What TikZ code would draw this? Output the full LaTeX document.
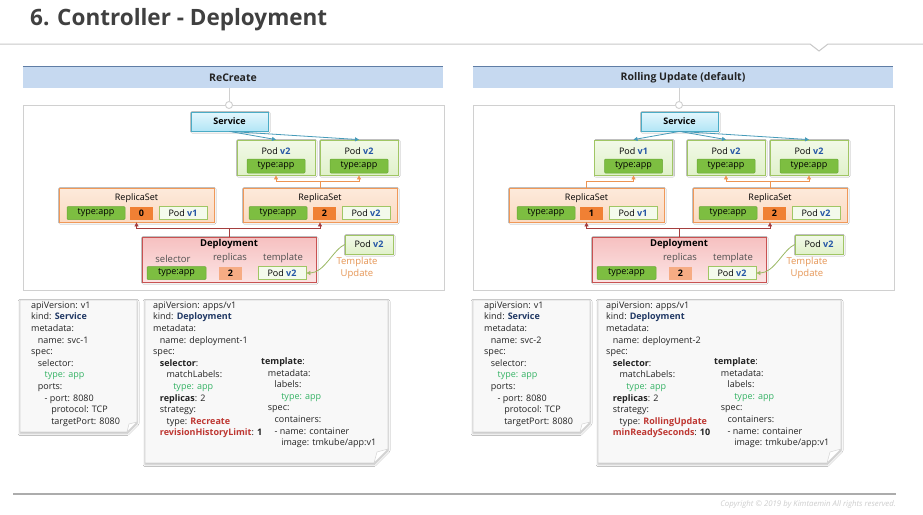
\documentclass[tikz,border=0pt]{standalone}
\usepackage{fontspec}
\setmainfont{Open Sans}
\usepackage{tikz}
\usetikzlibrary{
    positioning,
    arrows.meta,
    calc,
    shadows,
    shadows.blur
}
\definecolor{titleGray}{RGB}{64, 64, 64}
\definecolor{lineGray}{RGB}{200, 200, 200}
\definecolor{barFill}{RGB}{198, 217, 240}
\definecolor{barLine}{RGB}{95, 125, 165}
\definecolor{frameGray}{RGB}{208, 208, 208}
\definecolor{svcLine}{RGB}{75, 172, 198}
\definecolor{svcTop}{RGB}{228, 247, 253}
\definecolor{svcBot}{RGB}{178, 229, 246}
\definecolor{svcArrow}{RGB}{70, 155, 185}
\definecolor{podLine}{RGB}{160, 198, 100}
\definecolor{podTop}{RGB}{242, 249, 232}
\definecolor{podBot}{RGB}{224, 241, 202}
\definecolor{tagFill}{RGB}{244, 250, 236}
\definecolor{lblFill}{RGB}{125, 190, 65}
\definecolor{lblLine}{RGB}{105, 168, 52}
\definecolor{rsLine}{RGB}{240, 152, 88}
\definecolor{rsTop}{RGB}{253, 234, 219}
\definecolor{rsBot}{RGB}{251, 218, 194}
\definecolor{rsNum}{RGB}{240, 128, 52}
\definecolor{rsArrow}{RGB}{236, 148, 82}
\definecolor{depLine}{RGB}{200, 82, 82}
\definecolor{depTop}{RGB}{246, 192, 192}
\definecolor{depBot}{RGB}{252, 228, 228}
\definecolor{depNum}{RGB}{246, 172, 132}
\definecolor{depArrow}{RGB}{165, 62, 62}
\definecolor{verBlue}{RGB}{35, 85, 165}
\definecolor{labGray}{RGB}{80, 80, 80}
\definecolor{updOrange}{RGB}{230, 150, 85}
\definecolor{curveGreen}{RGB}{155, 185, 100}
\definecolor{noteFill}{RGB}{248, 248, 248}
\definecolor{noteLine}{RGB}{212, 212, 212}
\definecolor{codeText}{RGB}{35, 35, 35}
\definecolor{kindBlue}{RGB}{32, 56, 100}
\definecolor{yamlGreen}{RGB}{52, 178, 100}
\definecolor{yamlRed}{RGB}{190, 55, 50}
\definecolor{footGray}{RGB}{172, 172, 172}
\definecolor{copyGray}{RGB}{205, 205, 205}

\newcommand{\ver}[1]{\textcolor{verBlue}{\bfseries #1}}
\newcommand{\ind}[1]{\hspace*{#1\dimexpr 6.7pt\relax}}

\begin{document}
\begin{tikzpicture}[x=1pt, y=-1pt, >={Triangle[length=4pt, width=4pt]},
    font=\fontsize{9}{11.6}\selectfont,
    box/.style={draw, rectangle, inner sep=0pt, line width=0.8pt},
    soft/.style={blur shadow={shadow xshift=0.8pt, shadow yshift=-0.8pt, shadow blur radius=1.2pt, shadow opacity=25}},
    bar/.style={rectangle, fill=barFill, inner sep=0pt, font=\fontsize{10.5}{12}\selectfont\bfseries, text=codeText},
    svcbox/.style={box, soft, draw=svcLine, top color=svcTop, bottom color=svcBot, font=\fontsize{9}{10}\selectfont\bfseries},
    podbox/.style={box, soft, draw=podLine, top color=podTop, bottom color=podBot},
    lbl/.style={rectangle, inner sep=0pt, fill=lblFill, draw=lblLine, line width=0.5pt, rounded corners=1pt},
    tagpod/.style={rectangle, inner sep=0pt, fill=tagFill, draw=podLine, line width=0.8pt},
    rsbox/.style={box, soft, draw=rsLine, top color=rsTop, bottom color=rsBot},
    rsnum/.style={rectangle, inner sep=0pt, fill=rsNum, font=\fontsize{9}{10}\selectfont\bfseries},
    depbox/.style={box, soft, draw=depLine, top color=depTop, bottom color=depBot},
    depnum/.style={rectangle, inner sep=0pt, fill=depNum, font=\fontsize{9}{10}\selectfont\bfseries},
    deplab/.style={text=labGray, font=\fontsize{9.5}{11}\selectfont},
    note/.style={fill=noteFill, draw=noteLine, line width=0.6pt, blur shadow={shadow xshift=0pt, shadow yshift=-1.5pt, shadow blur radius=2pt, shadow opacity=30}},
    code/.style={anchor=north west, align=left, inner sep=0pt, text=codeText}
]
    \useasboundingbox (0,0) rectangle (923,514);
    \fill[white] (0,0) rectangle (923,514);

    % 見出し
    \node[anchor=west, inner sep=0pt, text=titleGray, font=\fontsize{22.5}{26}\selectfont\bfseries] (title) at (30,20) {6. Controller - Deployment};
    \draw[lineGray, line width=1pt] (0,44) -- (810,44) -- (819,51) -- (828,44) -- (923,44);

    % 2つのパネル
    \foreach \p/\dx/\head/\n in {L/0/ReCreate/0, R/450/Rolling Update (default)/1} {
        \begin{scope}[xshift=\dx]
            \node[bar, minimum width=420, minimum height=21] (bar\p) at (233,77.5) {\head};
            \draw[barLine, line width=1.2pt] (bar\p.north west) -- (bar\p.north east);
            \draw[frameGray, line width=0.9pt] (23,105) rectangle (444,290);
            \node[circle, draw=frameGray, fill=white, line width=0.9pt, minimum size=7, inner sep=0pt] (hole\p) at (229,105) {};
            \draw[frameGray, line width=0.9pt] (bar\p.south -| hole\p.north) -- (hole\p.north);

            % Service
            \node[svcbox, minimum width=77, minimum height=19] (svc\p) at (229.5,121.5) {Service};

            % Pod
            \foreach \q/\x in {A/276, B/359} {
                \node[podbox, minimum width=78, minimum height=35] (pod\q\p) at (\x,157.5) {};
                \node (pod\q t\p) at (\x,151.5) {Pod \ver{v2}};
                \node[lbl, minimum width=58, minimum height=14] (pod\q l\p) at (\x,166) {type:app};
                \draw[->, svcArrow, line width=0.8pt] (svc\p.south) -- (pod\q\p.north);
            }
            \ifnum\n=1
                \node[podbox, minimum width=78, minimum height=35] (podV\p) at (183.5,157.5) {};
                \node (podVt\p) at (183.5,151.5) {Pod \ver{v1}};
                \node[lbl, minimum width=58, minimum height=14] (podVl\p) at (183.5,166) {type:app};
                \draw[->, svcArrow, line width=0.8pt] (svc\p.south) -- (podV\p.north);
            \fi

            % ReplicaSet
            \node[rsbox, minimum width=155, minimum height=34] (rsA\p) at (136.5,205) {};
            \node (rsAt\p) at (136.5,198.5) {ReplicaSet};
            \node[lbl, minimum width=58, minimum height=13] (rsAl\p) at (96,213) {type:app};
            \node[rsnum, minimum width=23, minimum height=13] (rsAn\p) at (141.5,213) {\n};
            \node[tagpod, minimum width=48, minimum height=13] (rsAp\p) at (183,213) {Pod \ver{v1}};

            \node[rsbox, minimum width=154, minimum height=34] (rsB\p) at (320,205) {};
            \node (rsBt\p) at (320,198.5) {ReplicaSet};
            \node[lbl, minimum width=58, minimum height=13] (rsBl\p) at (278,213) {type:app};
            \node[rsnum, minimum width=23, minimum height=13] (rsBn\p) at (324.5,213) {2};
            \node[tagpod, minimum width=48, minimum height=13] (rsBp\p) at (366,213) {Pod \ver{v2}};

            \draw[->, rsArrow, line width=0.8pt] (rsB\p.north) -- ++(0,-6) -| (podA\p.south);
            \draw[->, rsArrow, line width=0.8pt] (rsB\p.north) -- ++(0,-6) -| (podB\p.south);
            \ifnum\n=1
                \draw[->, rsArrow, line width=0.8pt] (rsA\p.north) -- ++(0,-6) -| (podV\p.south);
            \fi

            % Deployment
            \node[depbox, minimum width=174, minimum height=45] (dep\p) at (229,259.5) {};
            \node[font=\fontsize{9.5}{11}\selectfont\bfseries] (depT\p) at (229,244) {Deployment};
            \ifnum\n=0
                \node[deplab] (depS\p) at (173,258.5) {selector};
            \fi
            \node[deplab] (depR\p) at (230,258.5) {replicas};
            \node[deplab] (depP\p) at (283,258.5) {template};
            \node[lbl, minimum width=59, minimum height=13] (depl\p) at (176.5,273) {type:app};
            \node[depnum, minimum width=23, minimum height=13] (depn\p) at (230.5,273) {2};
            \node[tagpod, minimum width=48, minimum height=13] (depp\p) at (282,273) {Pod \ver{v2}};

            \draw[->, depArrow, line width=0.8pt] (dep\p.north) -- ++(0,-8) -| (rsA\p.south);
            \draw[->, depArrow, line width=0.8pt] (dep\p.north) -- ++(0,-8) -| (rsB\p.south);

            % Template Update
            \node[podbox, minimum width=48, minimum height=19] (newpod\p) at (369,244.5) {Pod \ver{v2}};
            \node[text=updOrange, align=center, font=\fontsize{9.5}{12}\selectfont] (upd\p) at (357,268) {Template\\Update};
            \draw[->, curveGreen, line width=0.8pt] (newpod\p.west) .. controls (333,250) and (324,273) .. (depp\p.east);
        \end{scope}
    }

    % YAML (左)
    \filldraw[note] (20,300) -- (137,300) -- (137,422) -- (127,432) -- (20,432) -- cycle;
    \filldraw[noteLine, fill=white, line width=0.5pt] (137,422) -- (129,424) -- (127,432) -- cycle;
    \node[code] (svcyamlL) at (31,301.5) {apiVersion: v1\\
        kind: \textcolor{kindBlue}{\bfseries Service}\\
        metadata:\\
        \ind{1}name: svc-1\\
        spec:\\
        \ind{1}selector:\\
        \ind{2}\textcolor{yamlGreen}{type: app}\\
        \ind{1}ports:\\
        \ind{2}- port: 8080\\
        \ind{3}protocol: TCP\\
        \ind{3}targetPort: 8080};

    \filldraw[note] (145,300) -- (388,300) -- (388,449) -- (374,463) -- (145,463) -- cycle;
    \filldraw[noteLine, fill=white, line width=0.5pt] (388,449) -- (377,452) -- (374,463) -- cycle;
    \node[code] (depyamlL) at (153,301.5) {apiVersion: apps/v1\\
        kind: \textcolor{kindBlue}{\bfseries Deployment}\\
        metadata:\\
        \ind{1}name: deployment-1\\
        spec:\\
        \ind{1}\textbf{selector}:\\
        \ind{2}matchLabels:\\
        \ind{3}\textcolor{yamlGreen}{type: app}\\
        \ind{1}\textbf{replicas}: 2\\
        \ind{1}strategy:\\
        \ind{2}type: \textcolor{yamlRed}{\bfseries Recreate}\\
        \ind{1}\textcolor{yamlRed}{\bfseries revisionHistoryLimit}: \textbf{1}};
    \node[code] (tplyamlL) at (261,357.5) {\textbf{template}:\\
        \ind{1}metadata:\\
        \ind{2}labels:\\
        \ind{3}\textcolor{yamlGreen}{type: app}\\
        \ind{1}spec:\\
        \ind{2}containers:\\
        \ind{2}- name: container\\
        \ind{3}image: tmkube/app:v1};

    % YAML (右)
    \begin{scope}[xshift=453]
        \filldraw[note] (20,300) -- (137,300) -- (137,422) -- (127,432) -- (20,432) -- cycle;
        \filldraw[noteLine, fill=white, line width=0.5pt] (137,422) -- (129,424) -- (127,432) -- cycle;
        \node[code] (svcyamlR) at (31,301.5) {apiVersion: v1\\
            kind: \textcolor{kindBlue}{\bfseries Service}\\
            metadata:\\
            \ind{1}name: svc-2\\
            spec:\\
            \ind{1}selector:\\
            \ind{2}\textcolor{yamlGreen}{type: app}\\
            \ind{1}ports:\\
            \ind{2}- port: 8080\\
            \ind{3}protocol: TCP\\
            \ind{3}targetPort: 8080};

        \filldraw[note] (145,300) -- (388,300) -- (388,449) -- (374,463) -- (145,463) -- cycle;
        \filldraw[noteLine, fill=white, line width=0.5pt] (388,449) -- (377,452) -- (374,463) -- cycle;
        \node[code] (depyamlR) at (153,301.5) {apiVersion: apps/v1\\
            kind: \textcolor{kindBlue}{\bfseries Deployment}\\
            metadata:\\
            \ind{1}name: deployment-2\\
            spec:\\
            \ind{1}\textbf{selector}:\\
            \ind{2}matchLabels:\\
            \ind{3}\textcolor{yamlGreen}{type: app}\\
            \ind{1}\textbf{replicas}: 2\\
            \ind{1}strategy:\\
            \ind{2}type: \textcolor{yamlRed}{\bfseries RollingUpdate}\\
            \ind{1}\textcolor{yamlRed}{\bfseries minReadySeconds}: \textbf{10}};
        \node[code] (tplyamlR) at (261,357.5) {\textbf{template}:\\
            \ind{1}metadata:\\
            \ind{2}labels:\\
            \ind{3}\textcolor{yamlGreen}{type: app}\\
            \ind{1}spec:\\
            \ind{2}containers:\\
            \ind{2}- name: container\\
            \ind{3}image: tmkube/app:v1};
    \end{scope}

    % フッター
    \draw[footGray, line width=1.5pt] (13,494) -- (896,494);
    \node[anchor=east, inner sep=0pt, text=copyGray, font=\fontsize{7.8}{9}\selectfont\itshape] (copy) at (896,504) {Copyright \textcopyright{} 2019 by Kimtaemin All rights reserved.};
\end{tikzpicture}
\end{document}
